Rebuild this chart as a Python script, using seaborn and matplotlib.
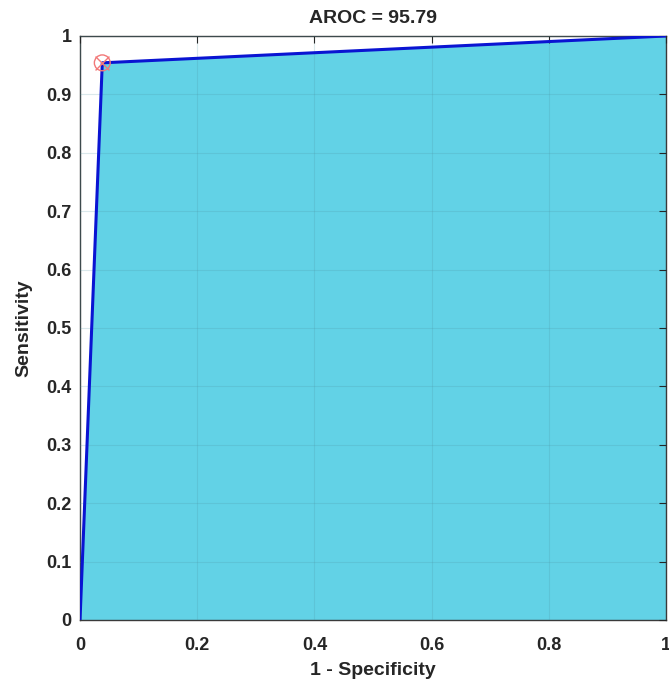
import matplotlib
matplotlib.use("Agg")
import matplotlib.pyplot as plt
import seaborn as sns
import pandas as pd
import numpy as np

# Data
fpr = [0.0, 0.038, 1.0]
tpr = [0.0, 0.954, 1.0]
op_fpr = [0.038]
op_tpr = [0.954]
aroc_title = "AROC = 95.79"
xticks = [0, 0.2, 0.4, 0.6, 0.8, 1]
xticklabels = ["0", "0.2", "0.4", "0.6", "0.8", "1"]
yticks = [0, 0.1, 0.2, 0.3, 0.4, 0.5, 0.6, 0.7, 0.8, 0.9, 1]
yticklabels = ["0", "0.1", "0.2", "0.3", "0.4", "0.5", "0.6", "0.7", "0.8", "0.9", "1"]

sns.set_theme(style="white")
plt.rcParams['font.family'] = ['Liberation Sans', 'DejaVu Sans']
plt.rcParams['font.weight'] = 'bold'

df = pd.DataFrame({"fpr": fpr, "tpr": tpr})

fig = plt.figure(figsize=(6.69, 6.84), dpi=100)
ax = fig.add_axes([0.1196, 0.0936, 0.8759, 0.8538])

ax.fill_between(df["fpr"], df["tpr"], 0, color="#62D2E6", zorder=1, linewidth=0)
sns.lineplot(data=df, x="fpr", y="tpr", ax=ax, color="#0A14D2", linewidth=2.2,
             estimator=None, sort=False, zorder=3)
ax.scatter(op_fpr, op_tpr, s=130, facecolors="none", edgecolors="#F27878", linewidths=1.0, zorder=4)
ax.scatter(op_fpr, op_tpr, s=100, marker="x", color="#F27878", linewidths=1.0, zorder=4)

ax.set_xlim(0, 1)
ax.set_ylim(0, 1)
ax.set_xticks(xticks)
ax.set_xticklabels(xticklabels, fontsize=13, fontweight="bold", color="#262626")
ax.set_yticks(yticks)
ax.set_yticklabels(yticklabels, fontsize=13, fontweight="bold", color="#262626")
ax.set_axisbelow(False)
ax.grid(True, color="#4A8E9C", alpha=0.2, linewidth=0.8)
ax.tick_params(axis="both", direction="in", length=5, width=0.8, colors="#262626",
               top=True, right=True)
ax.tick_params(axis="x", pad=12)
ax.tick_params(axis="y", pad=6)
for sp in ax.spines.values():
    sp.set_visible(True)
    sp.set_color("#3A3A3A")
    sp.set_linewidth(1.0)

ax.set_xlabel("1 - Specificity", fontsize=14, fontweight="bold", color="#262626", labelpad=6)
ax.set_ylabel("Sensitivity", fontsize=14, fontweight="bold", color="#262626", labelpad=10)
ax.set_title(aroc_title, fontsize=14, fontweight="bold", color="#262626", pad=9)

fig.savefig("out.png", dpi=100)
